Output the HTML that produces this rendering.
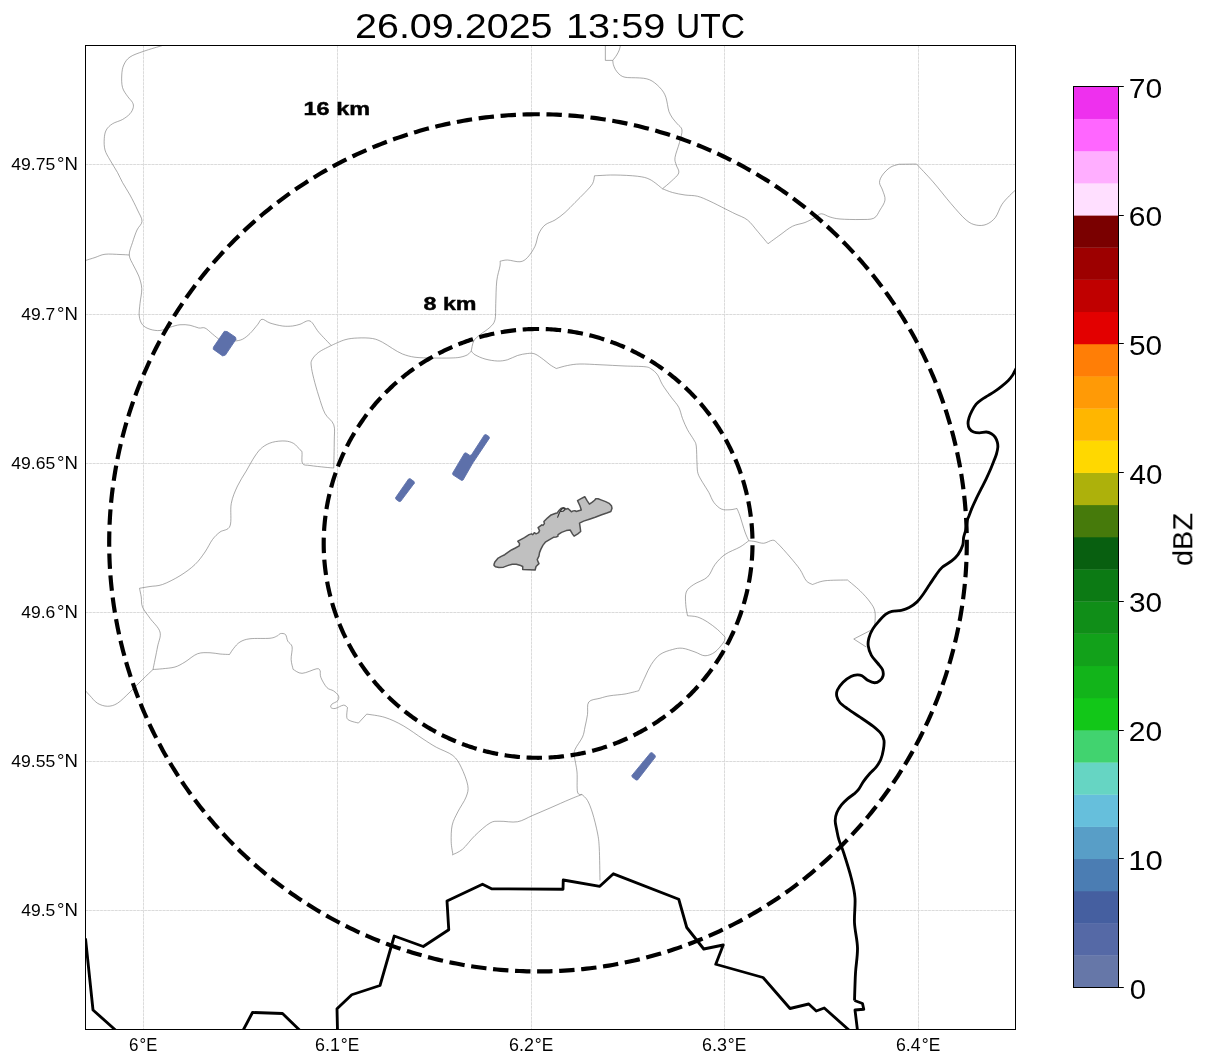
<!DOCTYPE html>
<html lang="en"><head><meta charset="utf-8"><title>Radar 26.09.2025 13:59 UTC</title>
<style>html,body{margin:0;padding:0;background:#fff;}svg{display:block;}text{font-family:"Liberation Sans",sans-serif;fill:#000;}</style></head><body>
<svg width="1207" height="1064" viewBox="0 0 1207 1064">
<rect x="0" y="0" width="1207" height="1064" fill="#fff"/>
<defs><clipPath id="ax"><rect x="85.5" y="45.5" width="930" height="984"/></clipPath></defs>
<g clip-path="url(#ax)">
<g stroke="#808080" stroke-width="1" fill="none" opacity="0.1">
<line x1="143.5" y1="45.5" x2="143.5" y2="1029.5"/>
<line x1="337.5" y1="45.5" x2="337.5" y2="1029.5"/>
<line x1="531.5" y1="45.5" x2="531.5" y2="1029.5"/>
<line x1="724.5" y1="45.5" x2="724.5" y2="1029.5"/>
<line x1="918.5" y1="45.5" x2="918.5" y2="1029.5"/>
<line x1="85.5" y1="164.5" x2="1015.5" y2="164.5"/>
<line x1="85.5" y1="314.5" x2="1015.5" y2="314.5"/>
<line x1="85.5" y1="463.5" x2="1015.5" y2="463.5"/>
<line x1="85.5" y1="612.5" x2="1015.5" y2="612.5"/>
<line x1="85.5" y1="761.5" x2="1015.5" y2="761.5"/>
<line x1="85.5" y1="910.5" x2="1015.5" y2="910.5"/>
</g>
<g stroke="#808080" stroke-width="1" stroke-dasharray="2.57 1.11" fill="none" opacity="0.2">
<line x1="143.5" y1="45.5" x2="143.5" y2="1029.5"/>
<line x1="337.5" y1="45.5" x2="337.5" y2="1029.5"/>
<line x1="531.5" y1="45.5" x2="531.5" y2="1029.5"/>
<line x1="724.5" y1="45.5" x2="724.5" y2="1029.5"/>
<line x1="918.5" y1="45.5" x2="918.5" y2="1029.5"/>
<line x1="85.5" y1="164.5" x2="1015.5" y2="164.5"/>
<line x1="85.5" y1="314.5" x2="1015.5" y2="314.5"/>
<line x1="85.5" y1="463.5" x2="1015.5" y2="463.5"/>
<line x1="85.5" y1="612.5" x2="1015.5" y2="612.5"/>
<line x1="85.5" y1="761.5" x2="1015.5" y2="761.5"/>
<line x1="85.5" y1="910.5" x2="1015.5" y2="910.5"/>
</g>
<g stroke="#7c7c7c" stroke-width="0.65" fill="none" stroke-linejoin="round">
<path d="M162.5 45.5 C159.38 46.46 149.17 49.33 143.75 51.25 C138.33 53.17 133.33 54.71 130 57 C126.67 59.29 125.12 62 123.75 65 C122.38 68 121.96 71.25 121.75 75 C121.54 78.75 121.54 83.96 122.5 87.5 C123.46 91.04 125.83 93.75 127.5 96.25 C129.17 98.75 131.54 100.62 132.5 102.5 C133.46 104.38 133.67 105.62 133.25 107.5 C132.83 109.38 131.79 111.75 130 113.75 C128.21 115.75 125.42 117.83 122.5 119.5 C119.58 121.17 115.21 122 112.5 123.75 C109.79 125.5 107.62 127.5 106.25 130 C104.88 132.5 104.46 135.42 104.25 138.75 C104.04 142.08 104.04 146.46 105 150 C105.96 153.54 107.92 156.25 110 160 C112.08 163.75 115.42 168.75 117.5 172.5 C119.58 176.25 120.42 178.75 122.5 182.5 C124.58 186.25 127.5 190.42 130 195 C132.5 199.58 135.5 205.62 137.5 210 C139.5 214.38 142.08 217.92 142 221.25 C141.92 224.58 138.58 226.46 137 230 C135.42 233.54 133.79 238.33 132.5 242.5 C131.21 246.67 129.04 251.08 129.25 255 C129.46 258.92 132.17 262.5 133.75 266 C135.33 269.5 137.42 272.25 138.75 276 C140.08 279.75 141.54 283.92 141.75 288.5 C141.96 293.08 140.42 298.92 140 303.5 C139.58 308.08 138.83 312.46 139.25 316 C139.67 319.54 140.71 322.54 142.5 324.75 C144.29 326.96 147.08 328.29 150 329.25 C152.92 330.21 156.67 330.83 160 330.5 C163.33 330.17 166.67 328.21 170 327.25 C173.33 326.29 176.67 325.08 180 324.75 C183.33 324.42 186.88 324.71 190 325.25 C193.12 325.79 196.25 327.54 198.75 328 C201.25 328.46 202.71 327 205 328 C207.29 329 210 332.04 212.5 334 C215 335.96 217.5 338.58 220 339.75 C222.5 340.92 225 340.79 227.5 341 C230 341.21 232.5 341.29 235 341 C237.5 340.71 240 340.5 242.5 339.25 C245 338 247.5 335.92 250 333.5 C252.5 331.08 255.5 327.12 257.5 324.75 C259.5 322.38 259.92 319.54 262 319.25 C264.08 318.96 266.58 321.88 270 323 C273.42 324.12 278.75 325.5 282.5 326 C286.25 326.5 289.58 326.29 292.5 326 C295.42 325.71 297.08 325.08 300 324.25 C302.92 323.42 306.88 319.67 310 321 C313.12 322.33 315.21 328.17 318.75 332.25 C322.29 336.33 329.17 343.29 331.25 345.5"/>
<path d="M129.25 255 C127.71 254.92 124.04 254.62 120 254.5 C115.96 254.38 109.17 253.75 105 254.25 C100.83 254.75 98.25 256.46 95 257.5 C91.75 258.54 87.08 260 85.5 260.5"/>
<path d="M331.25 345.5 C333.54 344.54 340.62 341 345 339.75 C349.38 338.5 352.92 338.21 357.5 338 C362.08 337.79 368.33 337.79 372.5 338.5 C376.67 339.21 379.17 340.58 382.5 342.25 C385.83 343.92 389.17 346.54 392.5 348.5 C395.83 350.46 398.75 352.54 402.5 354 C406.25 355.46 410 356.58 415 357.25 C420 357.92 426.67 357.88 432.5 358 C438.33 358.12 445.42 358.12 450 358 C454.58 357.88 457.08 357.79 460 357.25 C462.92 356.71 465.62 355.79 467.5 354.75 C469.38 353.71 470.62 351.62 471.25 351"/>
<path d="M331.25 345.5 C329.17 346.62 321.96 349.88 318.75 352.25 C315.54 354.62 313.25 357.46 312 359.75 C310.75 362.04 310.96 362.88 311.25 366 C311.54 369.12 312.5 373.5 313.75 378.5 C315 383.5 316.88 390.17 318.75 396 C320.62 401.83 322.5 408.71 325 413.5 C327.5 418.29 332.21 420.17 333.75 424.75 C335.29 429.33 334.25 433.79 334.25 441 C334.25 448.21 333.83 463.5 333.75 468 C332.29 467.88 328.96 467.67 325 467.25 C321.04 466.83 313.75 466.12 310 465.5 C306.25 464.88 303.83 465.71 302.5 463.5 C301.17 461.29 302.42 454.54 302 452.25 C301.58 449.96 301.38 451.21 300 449.75 C298.62 448.29 296.25 444.96 293.75 443.5 C291.25 442.04 288.54 441.21 285 441 C281.46 440.79 276.25 441.21 272.5 442.25 C268.75 443.29 265.42 444.96 262.5 447.25 C259.58 449.54 257.71 452.04 255 456 C252.29 459.96 249.17 466 246.25 471 C243.33 476 240 480.58 237.5 486 C235 491.42 232.5 496.83 231.25 503.5 C230 510.17 231.88 521.25 230 526 C228.12 530.75 222.92 529.75 220 532 C217.08 534.25 215 536.17 212.5 539.5 C210 542.83 207.92 547.83 205 552 C202.08 556.17 199.17 560.54 195 564.5 C190.83 568.46 185.42 572.42 180 575.75 C174.58 579.08 167.5 582.71 162.5 584.5 C157.5 586.29 153.83 585.88 150 586.5 C146.17 587.12 141.25 587.96 139.5 588.25 C139.79 589.71 140.75 593.88 141.25 597 C141.75 600.12 141.04 603.46 142.5 607 C143.96 610.54 147.08 614.08 150 618.25 C152.92 622.42 158.75 627.21 160 632 C161.25 636.79 158.67 640.75 157.5 647 C156.33 653.25 153.75 665.75 153 669.5"/>
<path d="M153 669.5 C151.25 671.17 146.33 675.75 142.5 679.5 C138.67 683.25 134.17 688.04 130 692 C125.83 695.96 121.25 700.88 117.5 703.25 C113.75 705.62 110.83 706.25 107.5 706.25 C104.17 706.25 100.42 705 97.5 703.25 C94.58 701.5 92 697.83 90 695.75 C88 693.67 86.25 691.58 85.5 690.75"/>
<path d="M153 669.5 C154.58 669.38 158.83 669.17 162.5 668.75 C166.17 668.33 171.25 668.12 175 667 C178.75 665.88 181.25 664.21 185 662 C188.75 659.79 193.33 655.29 197.5 653.75 C201.67 652.21 206.25 652.71 210 652.75 C213.75 652.79 216.75 653.71 220 654 C223.25 654.29 227.92 654.42 229.5 654.5 C230.21 653.46 232 650.33 233.75 648.25 C235.5 646.17 237.29 643.58 240 642 C242.71 640.42 245 639.38 250 638.75 C255 638.12 265.42 638.75 270 638.25 C274.58 637.75 275.75 636.53 277.5 635.75 C279.25 634.97 279.19 633.77 280.53 633.57 C281.86 633.37 284.28 633.29 285.5 634.57 C286.71 635.84 286.71 639.15 287.82 641.19 C288.92 643.24 291.57 643.79 292.13 646.83 C292.68 649.86 290.97 655.66 291.13 659.42 C291.3 663.18 292.79 667.71 293.12 669.36 C294.61 670.02 298.09 673.45 302.07 673.34 C306.04 673.23 313.94 669.09 316.98 668.7 C320.02 668.31 319.74 670.63 320.29 671.02 C320.4 672.12 319.85 674.89 320.96 677.65 C322.06 680.41 324.82 685.38 326.92 687.59 C329.02 689.8 331.62 689.52 333.55 690.9 C335.48 692.28 337.86 694.22 338.52 695.87 C339.18 697.53 338.63 699.46 337.53 700.85 C336.42 702.23 333 703.05 331.89 704.16 C330.79 705.26 330.35 706.76 330.9 707.47 C331.45 708.19 333.11 708.85 335.21 708.47 C337.31 708.08 341.45 705.32 343.49 705.15 C345.54 704.99 346.81 707.09 347.47 707.47 C347.36 709.13 346.36 715.21 346.81 717.42 C347.25 719.62 348.19 719.79 350.12 720.73 C352.05 721.67 357.02 722.66 358.41 723.05 L366.69 714.1 C369.73 714.65 378.84 715.48 384.92 717.42 C390.99 719.35 396.79 722.11 403.14 725.7 C409.5 729.29 417.5 735.37 423.03 738.96 C428.55 742.55 431.31 744.48 436.28 747.24 C441.26 750 448.71 752.21 452.85 755.53 C457 758.84 458.65 762.15 461.14 767.13 C463.62 772.1 466.94 780.38 467.77 785.35 C468.6 790.32 467.77 792.53 466.11 796.95 C464.45 801.37 460.14 807.17 457.83 811.86 C455.51 816.56 453.3 820.15 452.19 825.12 C451.09 830.09 451.09 836.83 451.2 841.69 C451.31 846.55 452.58 852.18 452.85 854.28"/>
<path d="M452 855 C453.75 854.04 458.67 852.5 462.5 849.25 C466.33 846 470.42 839.88 475 835.5 C479.58 831.12 485.83 825.38 490 823 C494.17 820.62 495.42 821.46 500 821.25 C504.58 821.04 512.08 822.71 517.5 821.75 C522.92 820.79 527.08 817.79 532.5 815.5 C537.92 813.21 543.75 810.71 550 808 C556.25 805.29 564.67 801.5 570 799.25 C575.33 797 580 795.29 582 794.5"/>
<path d="M471.25 351 C471.67 349.33 472.29 343.71 473.75 341 C475.21 338.29 477.29 337.04 480 334.75 C482.71 332.46 487.5 329.75 490 327.25 C492.5 324.75 494.04 323.71 495 319.75 C495.96 315.79 495.46 309.96 495.75 303.5 C496.04 297.04 496.04 287.25 496.75 281 C497.46 274.75 499.46 269.29 500 266 C500.54 262.71 500 262.04 500 261.25 C501.25 261.04 504.17 259.92 507.5 260 C510.83 260.08 516.67 262.17 520 261.75 C523.33 261.33 525 260.08 527.5 257.5 C530 254.92 533.12 250.21 535 246.25 C536.88 242.29 537.08 237.29 538.75 233.75 C540.42 230.21 542.29 227.29 545 225 C547.71 222.71 551.67 222.08 555 220 C558.33 217.92 561.67 215.42 565 212.5 C568.33 209.58 571.67 205.83 575 202.5 C578.33 199.17 582.08 195.62 585 192.5 C587.92 189.38 590.92 186.54 592.5 183.75 C594.08 180.96 594.17 177.08 594.5 175.75 C595.42 175.71 596.58 175.62 600 175.5 C603.42 175.38 608.75 174.88 615 175 C621.25 175.12 631.67 175.5 637.5 176.25 C643.33 177 645.83 177.42 650 179.5 C654.17 181.58 660.42 187.21 662.5 188.75"/>
<path d="M471.25 351 C471.88 351.62 472.71 353.42 475 354.75 C477.29 356.08 481.25 357.96 485 359 C488.75 360.04 493.75 360.88 497.5 361 C501.25 361.12 504.17 360.67 507.5 359.75 C510.83 358.83 514.17 356.54 517.5 355.5 C520.83 354.46 524.58 353.75 527.5 353.5 C530.42 353.25 532.29 352.96 535 354 C537.71 355.04 541.25 357.96 543.75 359.75 C546.25 361.54 547.92 363.29 550 364.75 C552.08 366.21 555.21 367.88 556.25 368.5 C558.12 368 563.54 366.25 567.5 365.5 C571.46 364.75 574.58 364.12 580 364 C585.42 363.88 592.5 364.42 600 364.75 C607.5 365.08 617.5 365.67 625 366 C632.5 366.33 640.62 366.25 645 366.75 C649.38 367.25 649.17 367.67 651.25 369 C653.33 370.33 655.62 372.12 657.5 374.75 C659.38 377.38 660.21 381 662.5 384.75 C664.79 388.5 668.54 393.5 671.25 397.25 C673.96 401 676.88 403.71 678.75 407.25 C680.62 410.79 681.04 414.75 682.5 418.5 C683.96 422.25 685.62 426.21 687.5 429.75 C689.38 433.29 692.29 437.04 693.75 439.75 C695.21 442.46 695.71 442.04 696.25 446 C696.79 449.96 696.71 458.92 697 463.5 C697.29 468.08 697.08 470.38 698 473.5 C698.92 476.62 700.71 479.12 702.5 482.25 C704.29 485.38 706.88 488.92 708.75 492.25 C710.62 495.58 711.67 499.46 713.75 502.25 C715.83 505.04 718.54 507.75 721.25 509 C723.96 510.25 727.38 509.83 730 509.75 C732.62 509.67 735.83 508.71 737 508.5 C737.5 509.75 738.67 512.08 740 516 C741.33 519.92 743.54 527.88 745 532 C746.46 536.12 748.12 539.29 748.75 540.75"/>
<path d="M748.75 540.75 C749.79 540.88 752.5 541.08 755 541.5 C757.5 541.92 760.83 543.46 763.75 543.25 C766.67 543.04 770.21 540.25 772.5 540.25 C774.79 540.25 774.58 540.46 777.5 543.25 C780.42 546.04 786.25 552.62 790 557 C793.75 561.38 797.29 565.54 800 569.5 C802.71 573.46 804.17 578.25 806.25 580.75 C808.33 583.25 811.46 583.88 812.5 584.5 C814.58 583.88 819.17 581.5 825 580.75 C830.83 580 843.75 580.12 847.5 580 C849.58 581.79 856.25 587.08 860 590.75 C863.75 594.42 867.5 598.46 870 602 C872.5 605.54 874.25 607.62 875 612 C875.75 616.38 874.58 625.54 874.5 628.25"/>
<path d="M874.5 628.25 L865 633.25 L853.75 639 L866.25 647"/>
<path d="M748.75 540.75 C747.29 541.79 743.96 544.71 740 547 C736.04 549.29 729.17 551.58 725 554.5 C720.83 557.42 717.92 560.75 715 564.5 C712.08 568.25 711.04 573.67 707.5 577 C703.96 580.33 697.29 582 693.75 584.5 C690.21 587 687.58 588.67 686.25 592 C684.92 595.33 685.54 600.54 685.75 604.5 C685.96 608.46 687.21 613.88 687.5 615.75 C689.17 615.96 694.17 615.96 697.5 617 C700.83 618.04 704.17 619.92 707.5 622 C710.83 624.08 714.58 627 717.5 629.5 C720.42 632 723.75 635.75 725 637 C724.79 637.83 725.42 639.5 723.75 642 C722.08 644.5 718.12 649.71 715 652 C711.88 654.29 708.33 655.75 705 655.75 C701.67 655.75 698.75 653.25 695 652 C691.25 650.75 686.25 648.67 682.5 648.25 C678.75 647.83 676.25 648.46 672.5 649.5 C668.75 650.54 663.54 652 660 654.5 C656.46 657 653.75 660.75 651.25 664.5 C648.75 668.25 647.08 672.62 645 677 C642.92 681.38 639.79 688.46 638.75 690.75 C636.46 691.29 629.79 693.17 625 694 C620.21 694.83 614.17 695.04 610 695.75 C605.83 696.46 603.54 697.21 600 698.25 C596.46 699.29 590.83 699.29 588.75 702 C586.67 704.71 588.12 710.33 587.5 714.5 C586.88 718.67 585.83 723.25 585 727 C584.17 730.75 584.17 733.25 582.5 737 C580.83 740.75 576.33 746.17 575 749.5 C573.67 752.83 574.17 753.25 574.5 757 C574.83 760.75 576.5 766.17 577 772 C577.5 777.83 576.67 788.25 577.5 792 C578.33 795.75 581.25 794.08 582 794.5"/>
<path d="M582 794.5 C582.92 795.5 585.75 797.42 587.5 800.5 C589.25 803.58 590.83 807.58 592.5 813 C594.17 818.42 596.38 827.17 597.5 833 C598.62 838.83 598.83 840.08 599.25 848 C599.67 855.92 599.88 875.08 600 880.5"/>
<path d="M605.35 43.98 L605.35 60.38 L612.81 60.38"/>
<path d="M620.56 43.98 C620.51 44.31 620.48 44.97 620.27 45.97 C620.05 46.96 619.85 48.45 619.27 49.94 C618.69 51.43 617.86 53.17 616.79 54.91 C615.71 56.65 613.47 59.47 612.81 60.38"/>
<path d="M612.81 60.38 C612.89 61.04 612.89 62.87 613.31 64.36 C613.72 65.85 614.38 67.75 615.29 69.33 C616.21 70.9 617.53 72.59 618.77 73.8 C620.02 75.01 621.26 75.96 622.75 76.59 C624.24 77.22 625.57 77.38 627.72 77.58 C629.88 77.78 633.02 77.66 635.68 77.78 C638.33 77.9 641.31 77.95 643.63 78.28 C645.95 78.61 647.77 79.02 649.59 79.77 C651.42 80.51 652.91 81.51 654.57 82.75 C656.22 83.99 658.04 85.65 659.54 87.22 C661.03 88.8 662.44 90.46 663.51 92.2 C664.59 93.94 665.34 95.59 666 97.66 C666.66 99.73 666.99 102.3 667.49 104.62 C667.99 106.94 668.15 109.35 668.98 111.58 C669.81 113.82 671.05 115.97 672.46 118.04 C673.87 120.12 675.84 122.02 677.43 124.01 C679.02 126 681.66 126.92 682 130 C682.34 133.08 680.67 137.92 679.5 142.5 C678.33 147.08 675.54 153.75 675 157.5 C674.46 161.25 675.62 162.42 676.25 165 C676.88 167.58 679.58 170.29 678.75 173 C677.92 175.71 673.96 178.62 671.25 181.25 C668.54 183.88 663.96 187.5 662.5 188.75"/>
<path d="M662.5 188.75 C664.17 189.38 668.75 191.46 672.5 192.5 C676.25 193.54 680.83 194.38 685 195 C689.17 195.62 693.33 195.21 697.5 196.25 C701.67 197.29 705.42 199.17 710 201.25 C714.58 203.33 720.83 206.67 725 208.75 C729.17 210.83 731.25 211.88 735 213.75 C738.75 215.62 743.75 217.08 747.5 220 C751.25 222.92 754.08 227.29 757.5 231.25 C760.92 235.21 766.25 241.67 768 243.75 C770 242.29 775.92 237.92 780 235 C784.08 232.08 788.33 228.33 792.5 226.25 C796.67 224.17 801.25 223.96 805 222.5 C808.75 221.04 812.29 218.96 815 217.5 C817.71 216.04 818.75 213.83 821.25 213.75 C823.75 213.67 826.88 216.12 830 217 C833.12 217.88 835 218.58 840 219 C845 219.42 854.38 219.62 860 219.5 C865.62 219.38 870.42 219.83 873.75 218.25 C877.08 216.67 878.12 213.04 880 210 C881.88 206.96 884.58 203.33 885 200 C885.42 196.67 883.42 192.92 882.5 190 C881.58 187.08 879.5 185 879.5 182.5 C879.5 180 880.75 177.5 882.5 175 C884.25 172.5 887.42 169.25 890 167.5 C892.58 165.75 896.33 165.04 898 164.5 C899.67 163.96 899.67 164.29 900 164.25 L916.53 164.06 C919.29 167.02 927.34 175.29 933.07 181.86 C938.79 188.43 945.36 197.12 950.87 203.48 C956.38 209.84 961.89 216.41 966.13 220.01 C970.37 223.62 972.91 224.38 976.3 225.1 C979.7 225.82 983.3 225.61 986.48 224.34 C989.66 223.06 992.84 220.73 995.38 217.47 C997.92 214.2 999.41 208.35 1001.74 204.75 C1004.07 201.15 1006.83 198.52 1009.37 195.85 C1011.91 193.18 1015.73 189.91 1017 188.73"/>
</g>
<g fill="#5d70aa" stroke="#5d70aa" stroke-width="0.9" stroke-linejoin="round">
<path d="M224.3 331.3 L227.1 331.5 L235.5 337.2 L236 339.3 L225.4 355.1 L222.6 355.9 L213.2 349.2 L213.5 347.1Z"/>
<path d="M484.4 434.92 L485.92 434.6 L489.08 436.65 L489.39 438.17 L473.11 462.58 L471.95 464.46 L463.05 480.04 L461.57 480.41 L452.93 474.84 L452.56 473.3 L464.44 453.2 L465.92 452.85 L469.83 455.4 L471.35 455.08Z"/>
<path d="M408.62 478.9 L410.13 478.65 L414.12 481.6 L414.34 483.13 L400.66 501.37 L399.12 501.59 L395.88 499.16 L395.63 497.6Z"/>
<path d="M650.55 752.85 L652.07 752.73 L655.18 755.52 L655.33 757.12 L637.67 779.88 L636.13 780.07 L632.12 776.93 L631.95 775.4Z"/>
</g>
<path d="M494.05 564.23 L494.86 561.91 L497.76 558.43 L501.24 556.35 L504.72 554.72 L508.2 552.05 L511.91 549.73 L515.39 548 L519.22 545.91 L519.57 543.59 L517.83 541.27 L519.8 540.11 L524.44 537.56 L529.08 534.66 L531.4 533.84 L532.79 534.66 L534.3 532.68 L536.04 533.84 L538.59 532.68 L539.52 530.6 L538.12 527.7 L541.84 524.8 L543 525.38 L544.39 523.64 L543.92 521.55 L547.63 517.84 L551.11 514.94 L555.75 513.2 L557.15 512.97 L559.23 510.3 L560.97 508.56 L563.29 507.63 L565.03 508.33 L566.19 509.14 L567.93 508.56 L570.25 510.65 L571.41 511.81 L573.15 510.88 L574.89 510.65 L576.05 511.46 L581.27 509.95 L580.11 506.24 L577.56 500.67 L581.04 498.7 L584.75 496.73 L587.07 500.67 L589.39 504.15 L592.29 502.18 L594.61 500.21 L595.77 498.7 L598.09 498.7 L600.99 499.86 L605.63 501.6 L609.11 503.34 L611.43 505.66 L612.01 508.33 L610.85 511.46 L606.79 512.97 L600.99 514.94 L595.19 517.26 L589.39 519.23 L583.59 521.09 L579.53 523.06 L580.11 527.12 L580.69 531.52 L577.79 533.84 L574.08 536.16 L572.57 534.08 L570.25 530.02 L566.19 530.6 L561.55 532.34 L558.07 534.66 L557.84 536.4 L555.99 536.98 L553.43 537.32 L549.95 539.3 L545.31 542.2 L543 545.1 L540.91 549.15 L539.52 552.63 L538.94 556.11 L537.2 559.59 L538.12 561.91 L538.94 563.65 L536.04 566.55 L535.11 570.03 L529.08 569.8 L522.7 569.45 L522.7 566.55 L519.8 565.16 L516.32 564.23 L512.26 564.23 L508.2 565.39 L503.56 567.13 L498.92 567.48 L495.44 566.79 L494.05 565.39Z" fill="#c0c0c0" stroke="#505050" stroke-width="1.5" stroke-linejoin="round"/>
<path d="M557.49 517.61 L559 513.78 L560.39 510.88 L562.13 508.56 L564.11 507.98 L565.03 509.49 L563.29 511.23 L560.63 511.57" fill="none" stroke="#333" stroke-width="1.1" stroke-linejoin="round"/>
<g stroke="#000" stroke-width="2.85" fill="none" stroke-linejoin="round" stroke-linecap="butt">
<path d="M85.5 938.5 L93 1010 L116 1030.5"/>
<path d="M243 1030.5 L252.5 1012.5 L282.5 1013.5 L300 1030.5"/>
<path d="M337.5 1030.5 L337 1008.75 L351.75 994.75 L380 985.5 L394.25 936 L423.25 946.5 L448.75 929.75 L447 901 L482.5 884.25 L491.5 888.75 L563 889.25 L563.25 880 L599.8 886.3 L613.4 873.8 L678.75 899.25 L686.75 927.5 L703.75 949 L723.25 945 L715.75 964.25 L763 977.5 L790 1008.5 L808.75 1004 L816.25 1011 L824.25 1008 L849.5 1030.5"/>
<path d="M854.5 1000.5 L862.5 1003.5 L863.75 1009.25 L855 1010 L857.5 1030.5"/>
<path d="M1018.5 364.5 C1018.02 365.31 1016.59 367.59 1015.6 369.39 C1014.61 371.19 1013.76 373.48 1012.55 375.31 C1011.34 377.14 1010.15 378.56 1008.32 380.39 C1006.49 382.22 1003.81 384.48 1001.55 386.31 C999.29 388.14 997.04 389.84 994.78 391.39 C992.52 392.94 990.27 394.21 988.01 395.62 C985.75 397.03 983.22 398.44 981.24 399.85 C979.26 401.26 977.71 402.25 976.16 404.08 C974.61 405.91 973.11 408.59 971.93 410.85 C970.75 413.11 969.71 415.5 969.06 417.62 C968.41 419.74 967.98 421.72 968.04 423.55 C968.1 425.38 968.46 427.21 969.39 428.62 C970.32 430.03 971.93 431.3 973.62 432.01 C975.31 432.72 977.43 432.86 979.55 432.86 C981.67 432.86 984.35 431.87 986.32 432.01 C988.3 432.15 989.93 432.85 991.4 433.7 C992.87 434.55 994.13 435.68 995.12 437.09 C996.11 438.5 996.87 440.48 997.32 442.17 C997.77 443.86 997.97 445.27 997.83 447.24 C997.69 449.21 997.12 451.75 996.47 454.01 C995.82 456.27 994.93 458.24 993.94 460.78 C992.95 463.32 991.82 466.29 990.55 469.25 C989.28 472.21 987.87 475.31 986.32 478.55 C984.77 481.79 982.93 485.32 981.24 488.71 C979.55 492.09 977.71 495.62 976.16 498.86 C974.61 502.1 973.11 505.35 971.93 508.17 C970.75 510.99 969.81 513.82 969.06 515.79 C968.31 517.76 967.95 517.73 967.42 520 C966.88 522.27 966.48 526.55 965.85 529.44 C965.22 532.33 964.17 534.7 963.65 537.32 C963.12 539.95 963.64 542.31 962.7 545.19 C961.76 548.08 959.82 552.01 957.98 554.63 C956.14 557.25 954.3 558.83 951.68 560.93 C949.06 563.03 944.86 564.86 942.24 567.22 C939.62 569.58 938.04 572.21 935.94 575.1 C933.84 577.99 931.74 581.39 929.64 584.54 C927.54 587.69 925.45 591.1 923.35 593.99 C921.25 596.88 919.41 599.61 917.05 601.86 C914.69 604.12 911.8 606.1 909.18 607.52 C906.56 608.94 904.2 609.73 901.31 610.36 C898.42 610.99 894.48 610.62 891.86 611.3 C889.24 611.98 887.67 612.88 885.57 614.45 C883.47 616.03 881.37 618.39 879.27 620.75 C877.17 623.11 874.7 625.74 872.97 628.62 C871.24 631.5 869.67 635.17 868.88 638.06 C868.09 640.94 867.83 643.04 868.25 645.93 C868.67 648.82 869.82 652.49 871.4 655.38 C872.98 658.27 875.86 660.89 877.7 663.25 C879.54 665.61 881.53 667.44 882.42 669.54 C883.31 671.64 883.47 674 883.05 675.84 C882.63 677.68 881.32 679.4 879.9 680.56 C878.48 681.71 876.49 682.77 874.55 682.77 C872.61 682.77 870.35 681.71 868.25 680.56 C866.15 679.4 863.8 676.78 861.96 675.84 C860.12 674.9 859.07 674.79 857.23 674.9 C855.39 675 853.3 675.26 850.94 676.47 C848.58 677.68 845.33 679.88 843.07 682.14 C840.81 684.4 838.45 687.65 837.4 690.01 C836.35 692.37 836.35 694.2 836.77 696.3 C837.19 698.4 838.08 700.5 839.92 702.6 C841.76 704.7 844.38 706.43 847.79 708.9 C851.2 711.37 856.18 714.51 860.38 717.4 C864.58 720.28 869.56 723.54 872.97 726.21 C876.38 728.88 879.01 731.09 880.85 733.45 C882.69 735.81 883.57 737.65 883.99 740.38 C884.41 743.11 883.88 746.68 883.36 749.83 C882.84 752.98 882.06 756.38 880.85 759.27 C879.64 762.15 877.96 764.78 876.12 767.14 C874.28 769.5 871.93 771.08 869.83 773.44 C867.73 775.8 865.37 778.69 863.53 781.31 C861.69 783.93 860.38 787.08 858.81 789.18 C857.23 791.28 855.92 792.33 854.08 793.9 C852.24 795.47 849.89 796.78 847.79 798.62 C845.69 800.46 843.33 802.56 841.49 804.92 C839.65 807.28 837.82 810.17 836.77 812.79 C835.72 815.41 835.19 817.77 835.19 820.66 C835.19 823.55 836.14 826.91 836.77 830.11 C837.4 833.31 837.81 836.06 838.97 839.87 C840.13 843.68 841.7 846.64 843.75 853 C845.8 859.36 849.38 870.5 851.25 878 C853.12 885.5 854.46 890.5 855 898 C855.54 905.5 854.08 914.67 854.5 923 C854.92 931.33 857.33 939.67 857.5 948 C857.67 956.33 856 964.25 855.5 973 C855 981.75 854.67 995.92 854.5 1000.5" stroke-linejoin="round"/>
</g>
<g stroke="#000" stroke-width="4.17" fill="none" stroke-dasharray="0.6984 0.3016">
<path pathLength="122.0815" d="M538 114.25 L534.26 114.27 L530.52 114.32 L526.78 114.4 L523.04 114.51 L519.3 114.66 L515.56 114.84 L511.82 115.05 L508.09 115.29 L504.36 115.57 L500.63 115.88 L496.9 116.22 L493.18 116.6 L489.46 117.01 L485.74 117.44 L482.03 117.92 L478.32 118.42 L474.62 118.96 L470.92 119.53 L467.23 120.13 L463.54 120.76 L459.86 121.43 L456.18 122.12 L452.51 122.85 L448.85 123.62 L445.19 124.41 L441.54 125.23 L437.9 126.09 L434.26 126.98 L430.64 127.9 L427.02 128.85 L423.41 129.84 L419.81 130.85 L416.21 131.9 L412.63 132.98 L409.06 134.09 L405.49 135.23 L401.94 136.4 L398.4 137.6 L394.86 138.83 L391.34 140.1 L387.83 141.39 L384.33 142.72 L380.84 144.07 L377.37 145.46 L373.91 146.88 L370.45 148.32 L367.02 149.8 L363.59 151.3 L360.18 152.84 L356.78 154.41 L353.4 156 L350.03 157.63 L346.67 159.28 L343.33 160.96 L340 162.68 L336.69 164.42 L333.39 166.19 L330.11 167.99 L326.85 169.82 L323.6 171.67 L320.37 173.56 L317.15 175.47 L313.95 177.41 L310.77 179.38 L307.61 181.37 L304.46 183.4 L301.33 185.45 L298.22 187.52 L295.13 189.63 L292.05 191.76 L288.99 193.92 L285.96 196.11 L282.94 198.32 L279.94 200.55 L276.96 202.82 L274 205.11 L271.07 207.42 L268.15 209.77 L265.25 212.13 L262.37 214.52 L259.52 216.94 L256.68 219.38 L253.87 221.85 L251.08 224.34 L248.31 226.85 L245.56 229.39 L242.83 231.95 L240.13 234.54 L237.45 237.15 L234.79 239.78 L232.16 242.44 L229.55 245.12 L226.96 247.82 L224.4 250.55 L221.86 253.29 L219.34 256.06 L216.85 258.85 L214.38 261.66 L211.94 264.5 L209.52 267.35 L207.13 270.23 L204.76 273.12 L202.42 276.04 L200.1 278.98 L197.81 281.93 L195.55 284.91 L193.31 287.91 L191.09 290.93 L188.91 293.96 L186.75 297.02 L184.61 300.09 L182.51 303.18 L180.43 306.29 L178.38 309.42 L176.35 312.56 L174.36 315.73 L172.39 318.91 L170.45 322.1 L168.53 325.32 L166.65 328.55 L164.79 331.8 L162.96 335.06 L161.16 338.34 L159.39 341.63 L157.65 344.94 L155.94 348.27 L154.25 351.61 L152.6 354.96 L150.97 358.33 L149.38 361.72 L147.81 365.11 L146.27 368.52 L144.76 371.95 L143.29 375.38 L141.84 378.83 L140.42 382.29 L139.04 385.77 L137.68 389.25 L136.35 392.75 L135.06 396.26 L133.8 399.78 L132.56 403.31 L131.36 406.85 L130.19 410.41 L129.05 413.97 L127.94 417.54 L126.86 421.12 L125.81 424.71 L124.8 428.31 L123.81 431.92 L122.86 435.54 L121.94 439.16 L121.05 442.8 L120.19 446.44 L119.36 450.08 L118.57 453.74 L117.81 457.4 L117.08 461.07 L116.38 464.74 L115.71 468.42 L115.08 472.11 L114.48 475.8 L113.91 479.5 L113.37 483.2 L112.87 486.91 L112.4 490.62 L111.96 494.33 L111.55 498.05 L111.17 501.77 L110.83 505.5 L110.52 509.22 L110.24 512.95 L110 516.68 L109.79 520.42 L109.61 524.15 L109.46 527.89 L109.35 531.63 L109.27 535.37 L109.22 539.11 L109.2 542.85 L109.22 546.59 L109.27 550.33 L109.35 554.07 L109.46 557.81 L109.61 561.55 L109.79 565.28 L110 569.02 L110.24 572.75 L110.52 576.48 L110.83 580.2 L111.17 583.93 L111.55 587.65 L111.96 591.37 L112.4 595.08 L112.87 598.79 L113.37 602.5 L113.91 606.2 L114.48 609.9 L115.08 613.59 L115.71 617.28 L116.38 620.96 L117.08 624.63 L117.81 628.3 L118.57 631.96 L119.36 635.62 L120.19 639.26 L121.05 642.9 L121.94 646.54 L122.86 650.16 L123.81 653.78 L124.8 657.39 L125.81 660.99 L126.86 664.58 L127.94 668.16 L129.05 671.73 L130.19 675.29 L131.36 678.85 L132.56 682.39 L133.8 685.92 L135.06 689.44 L136.35 692.95 L137.68 696.45 L139.04 699.93 L140.42 703.41 L141.84 706.87 L143.29 710.32 L144.76 713.75 L146.27 717.18 L147.81 720.59 L149.38 723.98 L150.97 727.37 L152.6 730.74 L154.25 734.09 L155.94 737.43 L157.65 740.76 L159.39 744.07 L161.16 747.36 L162.96 750.64 L164.79 753.9 L166.65 757.15 L168.53 760.38 L170.45 763.6 L172.39 766.79 L174.36 769.97 L176.35 773.14 L178.38 776.28 L180.43 779.41 L182.51 782.52 L184.61 785.61 L186.75 788.68 L188.91 791.74 L191.09 794.77 L193.31 797.79 L195.55 800.79 L197.81 803.77 L200.1 806.72 L202.42 809.66 L204.76 812.58 L207.13 815.47 L209.52 818.35 L211.94 821.2 L214.38 824.04 L216.85 826.85 L219.34 829.64 L221.86 832.41 L224.4 835.15 L226.96 837.88 L229.55 840.58 L232.16 843.26 L234.79 845.92 L237.45 848.55 L240.13 851.16 L242.83 853.75 L245.56 856.31 L248.31 858.85 L251.08 861.36 L253.87 863.85 L256.68 866.32 L259.52 868.76 L262.37 871.18 L265.25 873.57 L268.15 875.93 L271.07 878.28 L274 880.59 L276.96 882.88 L279.94 885.15 L282.94 887.38 L285.96 889.59 L288.99 891.78 L292.05 893.94 L295.13 896.07 L298.22 898.18 L301.33 900.25 L304.46 902.3 L307.61 904.33 L310.77 906.32 L313.95 908.29 L317.15 910.23 L320.37 912.14 L323.6 914.03 L326.85 915.88 L330.11 917.71 L333.39 919.51 L336.69 921.28 L340 923.02 L343.33 924.74 L346.67 926.42 L350.03 928.07 L353.4 929.7 L356.78 931.29 L360.18 932.86 L363.59 934.4 L367.02 935.9 L370.45 937.38 L373.91 938.82 L377.37 940.24 L380.84 941.63 L384.33 942.98 L387.83 944.31 L391.34 945.6 L394.86 946.87 L398.4 948.1 L401.94 949.3 L405.49 950.47 L409.06 951.61 L412.63 952.72 L416.21 953.8 L419.81 954.85 L423.41 955.86 L427.02 956.85 L430.64 957.8 L434.26 958.72 L437.9 959.61 L441.54 960.47 L445.19 961.29 L448.85 962.08 L452.51 962.85 L456.18 963.58 L459.86 964.27 L463.54 964.94 L467.23 965.57 L470.92 966.17 L474.62 966.74 L478.32 967.28 L482.03 967.78 L485.74 968.26 L489.46 968.69 L493.18 969.1 L496.9 969.48 L500.63 969.82 L504.36 970.13 L508.09 970.41 L511.82 970.65 L515.56 970.86 L519.3 971.04 L523.04 971.19 L526.78 971.3 L530.52 971.38 L534.26 971.43 L538 971.45 L541.74 971.43 L545.48 971.38 L549.22 971.3 L552.96 971.19 L556.7 971.04 L560.44 970.86 L564.18 970.65 L567.91 970.41 L571.64 970.13 L575.37 969.82 L579.1 969.48 L582.82 969.1 L586.54 968.69 L590.26 968.26 L593.97 967.78 L597.68 967.28 L601.38 966.74 L605.08 966.17 L608.77 965.57 L612.46 964.94 L616.14 964.27 L619.82 963.58 L623.49 962.85 L627.15 962.08 L630.81 961.29 L634.46 960.47 L638.1 959.61 L641.74 958.72 L645.36 957.8 L648.98 956.85 L652.59 955.86 L656.19 954.85 L659.79 953.8 L663.37 952.72 L666.94 951.61 L670.51 950.47 L674.06 949.3 L677.6 948.1 L681.14 946.87 L684.66 945.6 L688.17 944.31 L691.67 942.98 L695.16 941.63 L698.63 940.24 L702.09 938.82 L705.55 937.38 L708.98 935.9 L712.41 934.4 L715.82 932.86 L719.22 931.29 L722.6 929.7 L725.97 928.07 L729.33 926.42 L732.67 924.74 L736 923.02 L739.31 921.28 L742.61 919.51 L745.89 917.71 L749.15 915.88 L752.4 914.03 L755.63 912.14 L758.85 910.23 L762.05 908.29 L765.23 906.32 L768.39 904.33 L771.54 902.3 L774.67 900.25 L777.78 898.18 L780.87 896.07 L783.95 893.94 L787.01 891.78 L790.04 889.59 L793.06 887.38 L796.06 885.15 L799.04 882.88 L802 880.59 L804.93 878.28 L807.85 875.93 L810.75 873.57 L813.63 871.18 L816.48 868.76 L819.32 866.32 L822.13 863.85 L824.92 861.36 L827.69 858.85 L830.44 856.31 L833.17 853.75 L835.87 851.16 L838.55 848.55 L841.21 845.92 L843.84 843.26 L846.45 840.58 L849.04 837.88 L851.6 835.15 L854.14 832.41 L856.66 829.64 L859.15 826.85 L861.62 824.04 L864.06 821.2 L866.48 818.35 L868.87 815.47 L871.24 812.58 L873.58 809.66 L875.9 806.72 L878.19 803.77 L880.45 800.79 L882.69 797.79 L884.91 794.77 L887.09 791.74 L889.25 788.68 L891.39 785.61 L893.49 782.52 L895.57 779.41 L897.62 776.28 L899.65 773.14 L901.64 769.97 L903.61 766.79 L905.55 763.6 L907.47 760.38 L909.35 757.15 L911.21 753.9 L913.04 750.64 L914.84 747.36 L916.61 744.07 L918.35 740.76 L920.06 737.43 L921.75 734.09 L923.4 730.74 L925.03 727.37 L926.62 723.98 L928.19 720.59 L929.73 717.18 L931.24 713.75 L932.71 710.32 L934.16 706.87 L935.58 703.41 L936.96 699.93 L938.32 696.45 L939.65 692.95 L940.94 689.44 L942.2 685.92 L943.44 682.39 L944.64 678.85 L945.81 675.29 L946.95 671.73 L948.06 668.16 L949.14 664.58 L950.19 660.99 L951.2 657.39 L952.19 653.78 L953.14 650.16 L954.06 646.54 L954.95 642.9 L955.81 639.26 L956.64 635.62 L957.43 631.96 L958.19 628.3 L958.92 624.63 L959.62 620.96 L960.29 617.28 L960.92 613.59 L961.52 609.9 L962.09 606.2 L962.63 602.5 L963.13 598.79 L963.6 595.08 L964.04 591.37 L964.45 587.65 L964.83 583.93 L965.17 580.2 L965.48 576.48 L965.76 572.75 L966 569.02 L966.21 565.28 L966.39 561.55 L966.54 557.81 L966.65 554.07 L966.73 550.33 L966.78 546.59 L966.8 542.85 L966.78 539.11 L966.73 535.37 L966.65 531.63 L966.54 527.89 L966.39 524.15 L966.21 520.42 L966 516.68 L965.76 512.95 L965.48 509.22 L965.17 505.5 L964.83 501.77 L964.45 498.05 L964.04 494.33 L963.6 490.62 L963.13 486.91 L962.63 483.2 L962.09 479.5 L961.52 475.8 L960.92 472.11 L960.29 468.42 L959.62 464.74 L958.92 461.07 L958.19 457.4 L957.43 453.74 L956.64 450.08 L955.81 446.44 L954.95 442.8 L954.06 439.16 L953.14 435.54 L952.19 431.92 L951.2 428.31 L950.19 424.71 L949.14 421.12 L948.06 417.54 L946.95 413.97 L945.81 410.41 L944.64 406.85 L943.44 403.31 L942.2 399.78 L940.94 396.26 L939.65 392.75 L938.32 389.25 L936.96 385.77 L935.58 382.29 L934.16 378.83 L932.71 375.38 L931.24 371.95 L929.73 368.52 L928.19 365.11 L926.62 361.72 L925.03 358.33 L923.4 354.96 L921.75 351.61 L920.06 348.27 L918.35 344.94 L916.61 341.63 L914.84 338.34 L913.04 335.06 L911.21 331.8 L909.35 328.55 L907.47 325.32 L905.55 322.1 L903.61 318.91 L901.64 315.73 L899.65 312.56 L897.62 309.42 L895.57 306.29 L893.49 303.18 L891.39 300.09 L889.25 297.02 L887.09 293.96 L884.91 290.93 L882.69 287.91 L880.45 284.91 L878.19 281.93 L875.9 278.98 L873.58 276.04 L871.24 273.12 L868.87 270.23 L866.48 267.35 L864.06 264.5 L861.62 261.66 L859.15 258.85 L856.66 256.06 L854.14 253.29 L851.6 250.55 L849.04 247.82 L846.45 245.12 L843.84 242.44 L841.21 239.78 L838.55 237.15 L835.87 234.54 L833.17 231.95 L830.44 229.39 L827.69 226.85 L824.92 224.34 L822.13 221.85 L819.32 219.38 L816.48 216.94 L813.63 214.52 L810.75 212.13 L807.85 209.77 L804.93 207.42 L802 205.11 L799.04 202.82 L796.06 200.55 L793.06 198.32 L790.04 196.11 L787.01 193.92 L783.95 191.76 L780.87 189.63 L777.78 187.52 L774.67 185.45 L771.54 183.4 L768.39 181.37 L765.23 179.38 L762.05 177.41 L758.85 175.47 L755.63 173.56 L752.4 171.67 L749.15 169.82 L745.89 167.99 L742.61 166.19 L739.31 164.42 L736 162.68 L732.67 160.96 L729.33 159.28 L725.97 157.63 L722.6 156 L719.22 154.41 L715.82 152.84 L712.41 151.3 L708.98 149.8 L705.55 148.32 L702.09 146.88 L698.63 145.46 L695.16 144.07 L691.67 142.72 L688.17 141.39 L684.66 140.1 L681.14 138.83 L677.6 137.6 L674.06 136.4 L670.51 135.23 L666.94 134.09 L663.37 132.98 L659.79 131.9 L656.19 130.85 L652.59 129.84 L648.98 128.85 L645.36 127.9 L641.74 126.98 L638.1 126.09 L634.46 125.23 L630.81 124.41 L627.15 123.62 L623.49 122.85 L619.82 122.12 L616.14 121.43 L612.46 120.76 L608.77 120.13 L605.08 119.53 L601.38 118.96 L597.68 118.42 L593.97 117.92 L590.26 117.44 L586.54 117.01 L582.82 116.6 L579.1 116.22 L575.37 115.88 L571.64 115.57 L567.91 115.29 L564.18 115.05 L560.44 114.84 L556.7 114.66 L552.96 114.51 L549.22 114.4 L545.48 114.32 L541.74 114.27 L538 114.25"/>
<path pathLength="61.0453" d="M538.1 329 L536.23 329.01 L534.36 329.03 L532.49 329.07 L530.62 329.13 L528.75 329.2 L526.88 329.29 L525.01 329.4 L523.14 329.52 L521.28 329.66 L519.41 329.82 L517.55 329.99 L515.69 330.17 L513.83 330.38 L511.97 330.6 L510.12 330.83 L508.26 331.09 L506.41 331.35 L504.56 331.64 L502.71 331.94 L500.87 332.26 L499.03 332.59 L497.19 332.94 L495.36 333.3 L493.52 333.69 L491.7 334.08 L489.87 334.5 L488.05 334.92 L486.23 335.37 L484.42 335.83 L482.61 336.31 L480.8 336.8 L479 337.31 L477.21 337.83 L475.42 338.37 L473.63 338.92 L471.85 339.49 L470.07 340.08 L468.3 340.68 L466.53 341.3 L464.77 341.93 L463.02 342.58 L461.27 343.24 L459.52 343.92 L457.78 344.61 L456.05 345.32 L454.33 346.04 L452.61 346.78 L450.9 347.54 L449.19 348.3 L447.49 349.09 L445.8 349.89 L444.11 350.7 L442.44 351.53 L440.76 352.37 L439.1 353.22 L437.45 354.1 L435.8 354.98 L434.16 355.88 L432.52 356.8 L430.9 357.72 L429.28 358.67 L427.68 359.62 L426.08 360.59 L424.49 361.58 L422.9 362.58 L421.33 363.59 L419.76 364.61 L418.21 365.65 L416.66 366.71 L415.13 367.77 L413.6 368.85 L412.08 369.95 L410.57 371.05 L409.07 372.17 L407.58 373.31 L406.1 374.45 L404.63 375.61 L403.17 376.78 L401.72 377.96 L400.29 379.16 L398.86 380.37 L397.44 381.59 L396.03 382.82 L394.64 384.07 L393.25 385.33 L391.88 386.6 L390.52 387.88 L389.17 389.17 L387.83 390.48 L386.5 391.8 L385.18 393.13 L383.87 394.47 L382.58 395.82 L381.3 397.18 L380.03 398.55 L378.77 399.94 L377.52 401.33 L376.29 402.74 L375.07 404.16 L373.86 405.59 L372.66 407.02 L371.48 408.47 L370.31 409.93 L369.15 411.4 L368.01 412.88 L366.87 414.37 L365.75 415.87 L364.65 417.38 L363.55 418.9 L362.47 420.43 L361.41 421.96 L360.35 423.51 L359.31 425.06 L358.29 426.63 L357.28 428.2 L356.28 429.79 L355.29 431.38 L354.32 432.98 L353.37 434.58 L352.42 436.2 L351.5 437.82 L350.58 439.46 L349.68 441.1 L348.8 442.75 L347.92 444.4 L347.07 446.06 L346.23 447.74 L345.4 449.41 L344.59 451.1 L343.79 452.79 L343 454.49 L342.24 456.2 L341.48 457.91 L340.74 459.63 L340.02 461.35 L339.31 463.08 L338.62 464.82 L337.94 466.57 L337.28 468.32 L336.63 470.07 L336 471.83 L335.38 473.6 L334.78 475.37 L334.19 477.15 L333.62 478.93 L333.07 480.72 L332.53 482.51 L332.01 484.3 L331.5 486.1 L331.01 487.91 L330.53 489.72 L330.07 491.53 L329.62 493.35 L329.2 495.17 L328.78 497 L328.39 498.82 L328 500.66 L327.64 502.49 L327.29 504.33 L326.96 506.17 L326.64 508.01 L326.34 509.86 L326.05 511.71 L325.79 513.56 L325.53 515.42 L325.3 517.27 L325.08 519.13 L324.87 520.99 L324.69 522.85 L324.52 524.71 L324.36 526.58 L324.22 528.44 L324.1 530.31 L323.99 532.18 L323.9 534.05 L323.83 535.92 L323.77 537.79 L323.73 539.66 L323.71 541.53 L323.7 543.4 L323.71 545.27 L323.73 547.14 L323.77 549.01 L323.83 550.88 L323.9 552.75 L323.99 554.62 L324.1 556.49 L324.22 558.36 L324.36 560.22 L324.52 562.09 L324.69 563.95 L324.87 565.81 L325.08 567.67 L325.3 569.53 L325.53 571.38 L325.79 573.24 L326.05 575.09 L326.34 576.94 L326.64 578.79 L326.96 580.63 L327.29 582.47 L327.64 584.31 L328 586.14 L328.39 587.98 L328.78 589.8 L329.2 591.63 L329.62 593.45 L330.07 595.27 L330.53 597.08 L331.01 598.89 L331.5 600.7 L332.01 602.5 L332.53 604.29 L333.07 606.08 L333.62 607.87 L334.19 609.65 L334.78 611.43 L335.38 613.2 L336 614.97 L336.63 616.73 L337.28 618.48 L337.94 620.23 L338.62 621.98 L339.31 623.72 L340.02 625.45 L340.74 627.17 L341.48 628.89 L342.24 630.6 L343 632.31 L343.79 634.01 L344.59 635.7 L345.4 637.39 L346.23 639.06 L347.07 640.74 L347.92 642.4 L348.8 644.05 L349.68 645.7 L350.58 647.34 L351.5 648.98 L352.42 650.6 L353.37 652.22 L354.32 653.82 L355.29 655.42 L356.28 657.01 L357.28 658.6 L358.29 660.17 L359.31 661.74 L360.35 663.29 L361.41 664.84 L362.47 666.37 L363.55 667.9 L364.65 669.42 L365.75 670.93 L366.87 672.43 L368.01 673.92 L369.15 675.4 L370.31 676.87 L371.48 678.33 L372.66 679.78 L373.86 681.21 L375.07 682.64 L376.29 684.06 L377.52 685.47 L378.77 686.86 L380.03 688.25 L381.3 689.62 L382.58 690.98 L383.87 692.33 L385.18 693.67 L386.5 695 L387.83 696.32 L389.17 697.63 L390.52 698.92 L391.88 700.2 L393.25 701.47 L394.64 702.73 L396.03 703.98 L397.44 705.21 L398.86 706.43 L400.29 707.64 L401.72 708.84 L403.17 710.02 L404.63 711.19 L406.1 712.35 L407.58 713.49 L409.07 714.63 L410.57 715.75 L412.08 716.85 L413.6 717.95 L415.13 719.03 L416.66 720.09 L418.21 721.15 L419.76 722.19 L421.33 723.21 L422.9 724.22 L424.49 725.22 L426.08 726.21 L427.68 727.18 L429.28 728.13 L430.9 729.08 L432.52 730 L434.16 730.92 L435.8 731.82 L437.45 732.7 L439.1 733.58 L440.76 734.43 L442.44 735.27 L444.11 736.1 L445.8 736.91 L447.49 737.71 L449.19 738.5 L450.9 739.26 L452.61 740.02 L454.33 740.76 L456.05 741.48 L457.78 742.19 L459.52 742.88 L461.27 743.56 L463.02 744.22 L464.77 744.87 L466.53 745.5 L468.3 746.12 L470.07 746.72 L471.85 747.31 L473.63 747.88 L475.42 748.43 L477.21 748.97 L479 749.49 L480.8 750 L482.61 750.49 L484.42 750.97 L486.23 751.43 L488.05 751.88 L489.87 752.3 L491.7 752.72 L493.52 753.11 L495.36 753.5 L497.19 753.86 L499.03 754.21 L500.87 754.54 L502.71 754.86 L504.56 755.16 L506.41 755.45 L508.26 755.71 L510.12 755.97 L511.97 756.2 L513.83 756.42 L515.69 756.63 L517.55 756.81 L519.41 756.98 L521.28 757.14 L523.14 757.28 L525.01 757.4 L526.88 757.51 L528.75 757.6 L530.62 757.67 L532.49 757.73 L534.36 757.77 L536.23 757.79 L538.1 757.8 L539.97 757.79 L541.84 757.77 L543.71 757.73 L545.58 757.67 L547.45 757.6 L549.32 757.51 L551.19 757.4 L553.06 757.28 L554.92 757.14 L556.79 756.98 L558.65 756.81 L560.51 756.63 L562.37 756.42 L564.23 756.2 L566.08 755.97 L567.94 755.71 L569.79 755.45 L571.64 755.16 L573.49 754.86 L575.33 754.54 L577.17 754.21 L579.01 753.86 L580.84 753.5 L582.68 753.11 L584.5 752.72 L586.33 752.3 L588.15 751.88 L589.97 751.43 L591.78 750.97 L593.59 750.49 L595.4 750 L597.2 749.49 L598.99 748.97 L600.78 748.43 L602.57 747.88 L604.35 747.31 L606.13 746.72 L607.9 746.12 L609.67 745.5 L611.43 744.87 L613.18 744.22 L614.93 743.56 L616.68 742.88 L618.42 742.19 L620.15 741.48 L621.87 740.76 L623.59 740.02 L625.3 739.26 L627.01 738.5 L628.71 737.71 L630.4 736.91 L632.09 736.1 L633.76 735.27 L635.44 734.43 L637.1 733.58 L638.75 732.7 L640.4 731.82 L642.04 730.92 L643.68 730 L645.3 729.08 L646.92 728.13 L648.52 727.18 L650.12 726.21 L651.71 725.22 L653.3 724.22 L654.87 723.21 L656.44 722.19 L657.99 721.15 L659.54 720.09 L661.07 719.03 L662.6 717.95 L664.12 716.85 L665.63 715.75 L667.13 714.63 L668.62 713.49 L670.1 712.35 L671.57 711.19 L673.03 710.02 L674.48 708.84 L675.91 707.64 L677.34 706.43 L678.76 705.21 L680.17 703.98 L681.56 702.73 L682.95 701.47 L684.32 700.2 L685.68 698.92 L687.03 697.63 L688.37 696.32 L689.7 695 L691.02 693.67 L692.33 692.33 L693.62 690.98 L694.9 689.62 L696.17 688.25 L697.43 686.86 L698.68 685.47 L699.91 684.06 L701.13 682.64 L702.34 681.21 L703.54 679.78 L704.72 678.33 L705.89 676.87 L707.05 675.4 L708.19 673.92 L709.33 672.43 L710.45 670.93 L711.55 669.42 L712.65 667.9 L713.73 666.37 L714.79 664.84 L715.85 663.29 L716.89 661.74 L717.91 660.17 L718.92 658.6 L719.92 657.01 L720.91 655.42 L721.88 653.82 L722.83 652.22 L723.78 650.6 L724.7 648.98 L725.62 647.34 L726.52 645.7 L727.4 644.05 L728.28 642.4 L729.13 640.74 L729.97 639.06 L730.8 637.39 L731.61 635.7 L732.41 634.01 L733.2 632.31 L733.96 630.6 L734.72 628.89 L735.46 627.17 L736.18 625.45 L736.89 623.72 L737.58 621.98 L738.26 620.23 L738.92 618.48 L739.57 616.73 L740.2 614.97 L740.82 613.2 L741.42 611.43 L742.01 609.65 L742.58 607.87 L743.13 606.08 L743.67 604.29 L744.19 602.5 L744.7 600.7 L745.19 598.89 L745.67 597.08 L746.13 595.27 L746.58 593.45 L747 591.63 L747.42 589.8 L747.81 587.98 L748.2 586.14 L748.56 584.31 L748.91 582.47 L749.24 580.63 L749.56 578.79 L749.86 576.94 L750.15 575.09 L750.41 573.24 L750.67 571.38 L750.9 569.53 L751.12 567.67 L751.33 565.81 L751.51 563.95 L751.68 562.09 L751.84 560.22 L751.98 558.36 L752.1 556.49 L752.21 554.62 L752.3 552.75 L752.37 550.88 L752.43 549.01 L752.47 547.14 L752.49 545.27 L752.5 543.4 L752.49 541.53 L752.47 539.66 L752.43 537.79 L752.37 535.92 L752.3 534.05 L752.21 532.18 L752.1 530.31 L751.98 528.44 L751.84 526.58 L751.68 524.71 L751.51 522.85 L751.33 520.99 L751.12 519.13 L750.9 517.27 L750.67 515.42 L750.41 513.56 L750.15 511.71 L749.86 509.86 L749.56 508.01 L749.24 506.17 L748.91 504.33 L748.56 502.49 L748.2 500.66 L747.81 498.82 L747.42 497 L747 495.17 L746.58 493.35 L746.13 491.53 L745.67 489.72 L745.19 487.91 L744.7 486.1 L744.19 484.3 L743.67 482.51 L743.13 480.72 L742.58 478.93 L742.01 477.15 L741.42 475.37 L740.82 473.6 L740.2 471.83 L739.57 470.07 L738.92 468.32 L738.26 466.57 L737.58 464.82 L736.89 463.08 L736.18 461.35 L735.46 459.63 L734.72 457.91 L733.96 456.2 L733.2 454.49 L732.41 452.79 L731.61 451.1 L730.8 449.41 L729.97 447.74 L729.13 446.06 L728.28 444.4 L727.4 442.75 L726.52 441.1 L725.62 439.46 L724.7 437.82 L723.78 436.2 L722.83 434.58 L721.88 432.98 L720.91 431.38 L719.92 429.79 L718.92 428.2 L717.91 426.63 L716.89 425.06 L715.85 423.51 L714.79 421.96 L713.73 420.43 L712.65 418.9 L711.55 417.38 L710.45 415.87 L709.33 414.37 L708.19 412.88 L707.05 411.4 L705.89 409.93 L704.72 408.47 L703.54 407.02 L702.34 405.59 L701.13 404.16 L699.91 402.74 L698.68 401.33 L697.43 399.94 L696.17 398.55 L694.9 397.18 L693.62 395.82 L692.33 394.47 L691.02 393.13 L689.7 391.8 L688.37 390.48 L687.03 389.17 L685.68 387.88 L684.32 386.6 L682.95 385.33 L681.56 384.07 L680.17 382.82 L678.76 381.59 L677.34 380.37 L675.91 379.16 L674.48 377.96 L673.03 376.78 L671.57 375.61 L670.1 374.45 L668.62 373.31 L667.13 372.17 L665.63 371.05 L664.12 369.95 L662.6 368.85 L661.07 367.77 L659.54 366.71 L657.99 365.65 L656.44 364.61 L654.87 363.59 L653.3 362.58 L651.71 361.58 L650.12 360.59 L648.52 359.62 L646.92 358.67 L645.3 357.72 L643.68 356.8 L642.04 355.88 L640.4 354.98 L638.75 354.1 L637.1 353.22 L635.44 352.37 L633.76 351.53 L632.09 350.7 L630.4 349.89 L628.71 349.09 L627.01 348.3 L625.3 347.54 L623.59 346.78 L621.87 346.04 L620.15 345.32 L618.42 344.61 L616.68 343.92 L614.93 343.24 L613.18 342.58 L611.43 341.93 L609.67 341.3 L607.9 340.68 L606.13 340.08 L604.35 339.49 L602.57 338.92 L600.78 338.37 L598.99 337.83 L597.2 337.31 L595.4 336.8 L593.59 336.31 L591.78 335.83 L589.97 335.37 L588.15 334.92 L586.33 334.5 L584.5 334.08 L582.68 333.69 L580.84 333.3 L579.01 332.94 L577.17 332.59 L575.33 332.26 L573.49 331.94 L571.64 331.64 L569.79 331.35 L567.94 331.09 L566.08 330.83 L564.23 330.6 L562.37 330.38 L560.51 330.17 L558.65 329.99 L556.79 329.82 L554.92 329.66 L553.06 329.52 L551.19 329.4 L549.32 329.29 L547.45 329.2 L545.58 329.13 L543.71 329.07 L541.84 329.03 L539.97 329.01 L538.1 329"/>
</g>
</g>
<rect x="85.5" y="45.5" width="930" height="984" fill="none" stroke="#000" stroke-width="1"/>
<rect x="1073.5" y="955.32" width="45" height="32.48" fill="#6677a8"/>
<rect x="1073.5" y="923.14" width="45" height="32.48" fill="#5569a6"/>
<rect x="1073.5" y="890.96" width="45" height="32.48" fill="#455fa0"/>
<rect x="1073.5" y="858.79" width="45" height="32.48" fill="#4b7db3"/>
<rect x="1073.5" y="826.61" width="45" height="32.48" fill="#589ec7"/>
<rect x="1073.5" y="794.43" width="45" height="32.48" fill="#66bfdc"/>
<rect x="1073.5" y="762.25" width="45" height="32.48" fill="#66d5c3"/>
<rect x="1073.5" y="730.07" width="45" height="32.48" fill="#41d36f"/>
<rect x="1073.5" y="697.89" width="45" height="32.48" fill="#12c718"/>
<rect x="1073.5" y="665.71" width="45" height="32.48" fill="#12b41a"/>
<rect x="1073.5" y="633.54" width="45" height="32.48" fill="#12a11a"/>
<rect x="1073.5" y="601.36" width="45" height="32.48" fill="#108e18"/>
<rect x="1073.5" y="569.18" width="45" height="32.48" fill="#0c7a14"/>
<rect x="1073.5" y="537" width="45" height="32.48" fill="#085f10"/>
<rect x="1073.5" y="504.82" width="45" height="32.48" fill="#467a0b"/>
<rect x="1073.5" y="472.64" width="45" height="32.48" fill="#adb10b"/>
<rect x="1073.5" y="440.46" width="45" height="32.48" fill="#ffd800"/>
<rect x="1073.5" y="408.29" width="45" height="32.48" fill="#ffb600"/>
<rect x="1073.5" y="376.11" width="45" height="32.48" fill="#ff9a06"/>
<rect x="1073.5" y="343.93" width="45" height="32.48" fill="#ff7e06"/>
<rect x="1073.5" y="311.75" width="45" height="32.48" fill="#e30000"/>
<rect x="1073.5" y="279.57" width="45" height="32.48" fill="#c00000"/>
<rect x="1073.5" y="247.39" width="45" height="32.48" fill="#9d0000"/>
<rect x="1073.5" y="215.21" width="45" height="32.48" fill="#7a0000"/>
<rect x="1073.5" y="183.04" width="45" height="32.48" fill="#ffdfff"/>
<rect x="1073.5" y="150.86" width="45" height="32.48" fill="#ffaeff"/>
<rect x="1073.5" y="118.68" width="45" height="32.48" fill="#ff66ff"/>
<rect x="1073.5" y="86.5" width="45" height="32.48" fill="#ee30ee"/>
<rect x="1073.5" y="86.5" width="45" height="901" fill="none" stroke="#000" stroke-width="1"/>
<line x1="1118.5" y1="987.5" x2="1123.8" y2="987.5" stroke="#000" stroke-width="1"/>
<line x1="1118.5" y1="858.5" x2="1123.8" y2="858.5" stroke="#000" stroke-width="1"/>
<line x1="1118.5" y1="730.5" x2="1123.8" y2="730.5" stroke="#000" stroke-width="1"/>
<line x1="1118.5" y1="601.5" x2="1123.8" y2="601.5" stroke="#000" stroke-width="1"/>
<line x1="1118.5" y1="472.5" x2="1123.8" y2="472.5" stroke="#000" stroke-width="1"/>
<line x1="1118.5" y1="343.5" x2="1123.8" y2="343.5" stroke="#000" stroke-width="1"/>
<line x1="1118.5" y1="215.5" x2="1123.8" y2="215.5" stroke="#000" stroke-width="1"/>
<line x1="1118.5" y1="86.5" x2="1123.8" y2="86.5" stroke="#000" stroke-width="1"/>
<g opacity="0.999">
<text id="t1" x="355" y="37.7" font-size="35.61" textLength="197.57" lengthAdjust="spacingAndGlyphs">26.09.2025</text>
<text id="t2" x="566" y="37.7" font-size="35.61" textLength="99.25" lengthAdjust="spacingAndGlyphs">13:59</text>
<text id="t3" x="676" y="37.7" font-size="35.61" textLength="68.98" lengthAdjust="spacingAndGlyphs">UTC</text>
<text id="y49_75" x="11.25" y="169.6" font-size="17.29" textLength="44.03" lengthAdjust="spacingAndGlyphs">49.75</text>
<text id="y49_75u" x="57" y="169.6" font-size="17.65" textLength="20.86" lengthAdjust="spacingAndGlyphs">°N</text>
<text id="y49_7" x="21.25" y="319.6" font-size="17.29" textLength="34.04" lengthAdjust="spacingAndGlyphs">49.7</text>
<text id="y49_7u" x="57" y="319.6" font-size="17.65" textLength="20.86" lengthAdjust="spacingAndGlyphs">°N</text>
<text id="y49_65" x="11.25" y="468.6" font-size="17.29" textLength="44.03" lengthAdjust="spacingAndGlyphs">49.65</text>
<text id="y49_65u" x="57" y="468.6" font-size="17.65" textLength="20.86" lengthAdjust="spacingAndGlyphs">°N</text>
<text id="y49_6" x="21.25" y="617.6" font-size="17.29" textLength="34.04" lengthAdjust="spacingAndGlyphs">49.6</text>
<text id="y49_6u" x="57" y="617.6" font-size="17.65" textLength="20.86" lengthAdjust="spacingAndGlyphs">°N</text>
<text id="y49_55" x="11.25" y="766.6" font-size="17.29" textLength="44.03" lengthAdjust="spacingAndGlyphs">49.55</text>
<text id="y49_55u" x="57" y="766.6" font-size="17.65" textLength="20.86" lengthAdjust="spacingAndGlyphs">°N</text>
<text id="y49_5" x="21.25" y="915.6" font-size="17.29" textLength="34.04" lengthAdjust="spacingAndGlyphs">49.5</text>
<text id="y49_5u" x="57" y="915.6" font-size="17.65" textLength="20.86" lengthAdjust="spacingAndGlyphs">°N</text>
<text id="x6" x="129" y="1050.8" font-size="17.71" textLength="9.49" lengthAdjust="spacingAndGlyphs">6</text>
<text id="x6u" x="139.5" y="1050.8" font-size="18.09" textLength="17.69" lengthAdjust="spacingAndGlyphs">°E</text>
<text id="x6_1" x="315" y="1050.8" font-size="17.71" textLength="24.87" lengthAdjust="spacingAndGlyphs">6.1</text>
<text id="x6_1u" x="340.75" y="1050.8" font-size="18.09" textLength="18.43" lengthAdjust="spacingAndGlyphs">°E</text>
<text id="x6_2" x="509" y="1050.8" font-size="17.71" textLength="24.87" lengthAdjust="spacingAndGlyphs">6.2</text>
<text id="x6_2u" x="534.75" y="1050.8" font-size="18.09" textLength="18.43" lengthAdjust="spacingAndGlyphs">°E</text>
<text id="x6_3" x="702" y="1050.8" font-size="17.71" textLength="24.87" lengthAdjust="spacingAndGlyphs">6.3</text>
<text id="x6_3u" x="727.75" y="1050.8" font-size="18.09" textLength="18.43" lengthAdjust="spacingAndGlyphs">°E</text>
<text id="x6_4" x="896" y="1050.8" font-size="17.71" textLength="24.59" lengthAdjust="spacingAndGlyphs">6.4</text>
<text id="x6_4u" x="921.75" y="1050.8" font-size="18.09" textLength="18.43" lengthAdjust="spacingAndGlyphs">°E</text>
<text id="km16" x="303.5" y="114.8" font-size="18.97" font-weight="bold" stroke="#000" stroke-width="0.45" textLength="66.58" lengthAdjust="spacingAndGlyphs">16 km</text>
<text id="km8" x="423.5" y="309.8" font-size="18.97" font-weight="bold" stroke="#000" stroke-width="0.45" textLength="53.05" lengthAdjust="spacingAndGlyphs">8 km</text>
<text id="cb0" x="1129.75" y="998.6" font-size="28.04" textLength="16.33" lengthAdjust="spacingAndGlyphs">0</text>
<text id="cb10" x="1128.25" y="869.89" font-size="28.04" textLength="34.63" lengthAdjust="spacingAndGlyphs">10</text>
<text id="cb20" x="1128.75" y="741.17" font-size="28.04" textLength="33.45" lengthAdjust="spacingAndGlyphs">20</text>
<text id="cb30" x="1129" y="612.46" font-size="28.04" textLength="33.16" lengthAdjust="spacingAndGlyphs">30</text>
<text id="cb40" x="1129.5" y="483.74" font-size="28.04" textLength="32.86" lengthAdjust="spacingAndGlyphs">40</text>
<text id="cb50" x="1129" y="355.03" font-size="28.04" textLength="33.16" lengthAdjust="spacingAndGlyphs">50</text>
<text id="cb60" x="1128.75" y="226.31" font-size="28.04" textLength="33.45" lengthAdjust="spacingAndGlyphs">60</text>
<text id="cb70" x="1128.75" y="97.6" font-size="28.04" textLength="33.45" lengthAdjust="spacingAndGlyphs">70</text>
<text id="dbz" transform="translate(1192.3 566) rotate(-90)" font-size="28.08" textLength="53.09" lengthAdjust="spacingAndGlyphs">dBZ</text>
</g><!--texts-->
</svg></body></html>
